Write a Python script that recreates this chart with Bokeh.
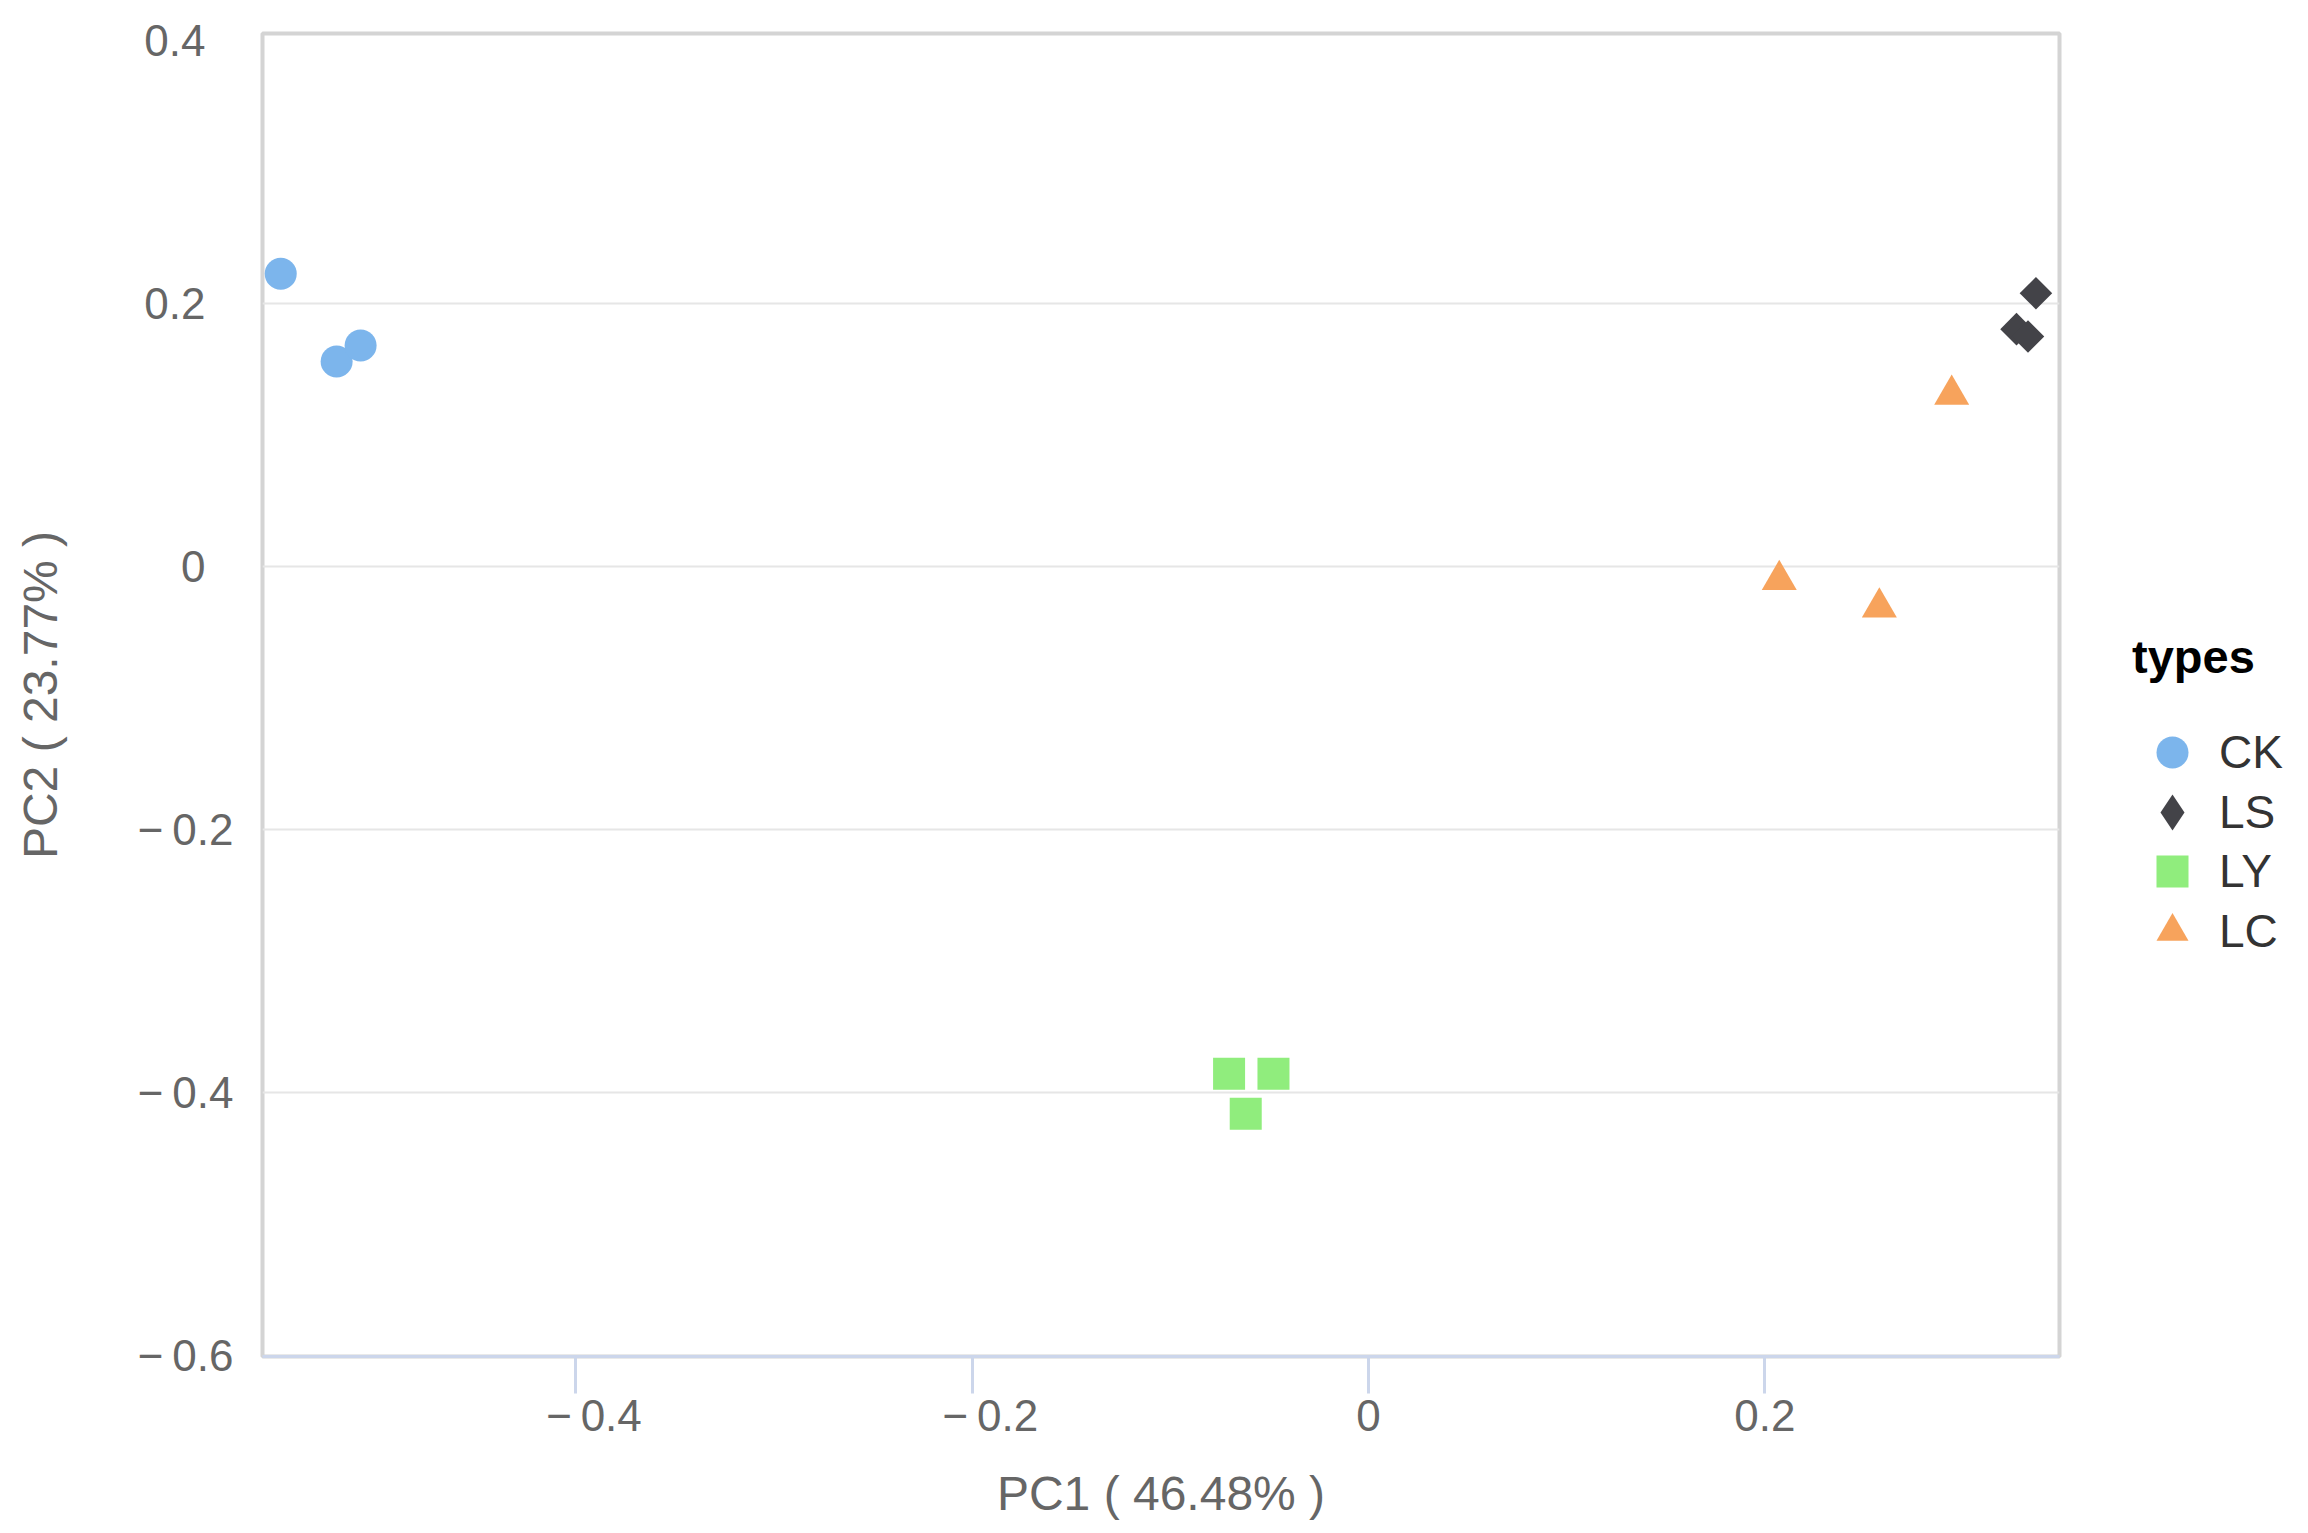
import math
from bokeh.plotting import figure
from bokeh.layouts import row
from bokeh.models import FixedTicker, Range1d, Legend, LegendItem, ColumnDataSource
from bokeh.embed import file_html
from bokeh.resources import INLINE

# ---- data ----
types = ["CK", "LS", "LY", "LC"]
ck_x = [-0.5488, -0.5206, -0.5085]
ck_y = [0.2223, 0.1556, 0.1678]
ls_x = [0.3368, 0.3270, 0.3328]
ls_y = [0.2075, 0.1802, 0.1746]
ly_x = [-0.0703, -0.0479, -0.0619]
ly_y = [-0.3860, -0.3860, -0.4165]
lc_x = [0.2943, 0.2073, 0.2578]
lc_y = [0.1303, -0.0105, -0.0314]

x_ticks = [-0.4, -0.2, 0.0, 0.2]
x_tick_labels = ["−0.4", "−0.2", "0", "0.2"]
y_ticks = [-0.6, -0.4, -0.2, 0.0, 0.2, 0.4]
y_tick_labels = ["−0.6", "−0.4", "−0.2", "0", "0.2", "0.4"]
x_title = "PC1 ( 46.48% )"
y_title = "PC2 ( 23.77% )"
legend_title = "types"

colors = {"CK": "#7cb5ec", "LS": "#434348", "LY": "#90ed7d", "LC": "#f7a35c"}

FONT = "Liberation Sans"
FRAME_W, FRAME_H = 1797, 1323
TOP, BOTTOM = 33, 170

p = figure(
    frame_width=FRAME_W, frame_height=FRAME_H,
    x_range=Range1d(-0.558, 0.3487), y_range=Range1d(-0.601, 0.405),
    output_backend="svg", toolbar_location=None,
    min_border_left=262, min_border_right=5, min_border_top=TOP, min_border_bottom=BOTTOM,
    background_fill_color="white", border_fill_color="white",
)
p.outline_line_color = "#d4d4d4"
p.outline_line_width = 4

# grid
p.xgrid.grid_line_color = None
p.ygrid.ticker = FixedTicker(ticks=[t for t in y_ticks if -0.55 < t < 0.35])
p.ygrid.grid_line_color = "#e6e6e6"
p.ygrid.grid_line_width = 2

# x axis
xa = p.xaxis[0]
xa.ticker = FixedTicker(ticks=x_ticks)
xa.major_label_overrides = {
    t: (("\u2007\u00a0" + lab.replace("−", "−\u2009")) if lab.startswith("−") else lab)
    for t, lab in zip(x_ticks, x_tick_labels)
}
xa.axis_line_color = "#ccd6eb"
xa.axis_line_width = 3
xa.major_tick_line_color = "#ccd6eb"
xa.major_tick_line_width = 3
xa.major_tick_out = 37
xa.major_tick_in = 0
xa.minor_tick_line_color = None
xa.major_label_standoff = -3
xa.major_label_text_font = FONT
xa.major_label_text_font_size = "44px"
xa.major_label_text_color = "#666666"
xa.axis_label = x_title
xa.axis_label_text_font = FONT
xa.axis_label_text_font_size = "48px"
xa.axis_label_text_font_style = "normal"
xa.axis_label_text_color = "#666666"
xa.axis_label_standoff = 24

# y axis
ya = p.yaxis[0]
ya.ticker = FixedTicker(ticks=y_ticks)
ya.major_label_overrides = {
    t: (lab.replace("−", "−\u2009") if lab.startswith("−") else lab + "\u2007\u200a")
    for t, lab in zip(y_ticks, y_tick_labels)
}
ya.axis_line_color = None
ya.major_tick_line_color = None
ya.minor_tick_line_color = None
ya.major_tick_out = 0
ya.major_tick_in = 0
ya.major_label_standoff = 29
ya.major_label_text_font = FONT
ya.major_label_text_font_size = "44px"
ya.major_label_text_color = "#666666"
ya.axis_label = y_title
ya.axis_label_text_font = FONT
ya.axis_label_text_font_size = "48px"
ya.axis_label_text_font_style = "normal"
ya.axis_label_text_color = "#666666"
ya.axis_label_standoff = 68

# points
series = [
    ("CK", ck_x, ck_y, "circle", 32, 0.0),
    ("LS", ls_x, ls_y, "square", 23, math.pi / 4),
    ("LY", ly_x, ly_y, "square", 32, 0.0),
    ("LC", lc_x, lc_y, "triangle", 35, 0.0),
]
for name, xs, ys, marker, size, ang in series:
    src = ColumnDataSource(dict(x=xs, y=ys))
    p.scatter("x", "y", source=src, marker=marker, size=size, angle=ang,
              fill_color=colors[name], line_color=None)

# ---- legend panel (separate, axis-less figure to the right) ----
LEG_W = 235
lf = figure(
    frame_width=LEG_W, frame_height=FRAME_H,
    x_range=Range1d(0, 1), y_range=Range1d(0, 1),
    x_axis_location=None, y_axis_location=None,
    output_backend="svg", toolbar_location=None,
    min_border_left=0, min_border_right=0, min_border_top=TOP, min_border_bottom=BOTTOM,
    background_fill_color="white", border_fill_color="white",
)
lf.grid.visible = False
lf.outline_line_color = None

legend_markers = {"CK": "circle", "LS": "diamond", "LY": "square", "LC": "triangle"}
legend_box = {"CK": 80, "LS": 90, "LY": 80, "LC": 80}   # swatch box; marker size = 0.4*box
row_centres = [752, 812, 871, 931]   # swatch centres, px from top of the chart
GLYPH_CX = 108      # swatch centre, px from left of the legend panel
LABEL_X = 155       # label text start, px from left of the legend panel

for i, name in enumerate(types):
    r = lf.scatter(x=[float("nan")], y=[float("nan")], marker=legend_markers[name],
                   size=10, fill_color=colors[name], line_color=None)
    box = legend_box[name]
    kw = {}
    if i == 0:
        kw = dict(title=legend_title, title_text_font=FONT, title_text_font_size="47px",
                  title_text_font_style="bold", title_text_color="#000000", title_standoff=28)
    bottom_up = (TOP + FRAME_H) - (row_centres[i] + box // 2)
    lg = Legend(
        items=[LegendItem(label=name, renderers=[r])],
        location=(GLYPH_CX - box // 2, bottom_up),
        orientation="vertical",
        padding=0, margin=0, spacing=0,
        glyph_width=box, glyph_height=box, label_height=box,
        label_standoff=LABEL_X - (GLYPH_CX + box // 2),
        label_text_font=FONT, label_text_font_size="46px", label_text_color="#333333",
        border_line_color=None, background_fill_alpha=0.0,
        click_policy="none", **kw,
    )
    lf.add_layout(lg, "center")

layout = row(p, lf, spacing=0)
open("out.html", "w").write(file_html(layout, INLINE))
